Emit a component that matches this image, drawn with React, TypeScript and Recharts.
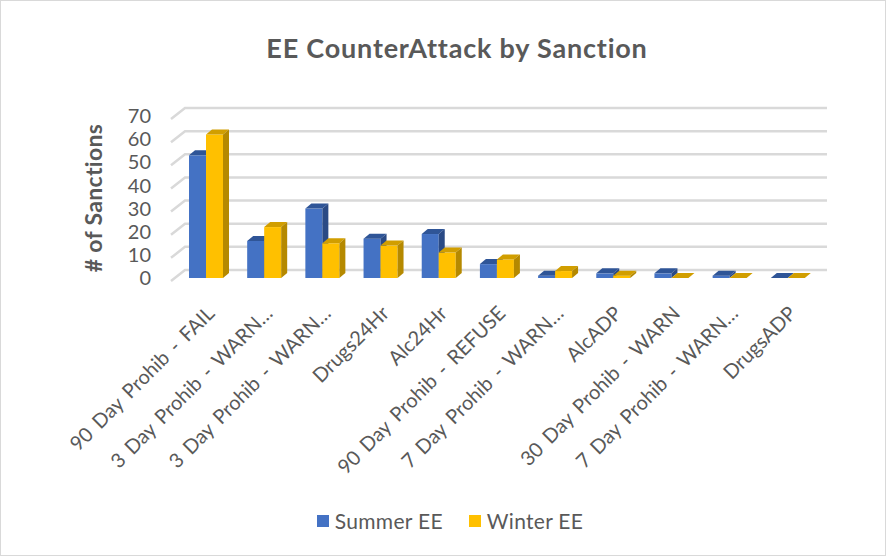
import React from "react";
import { BarChart, Bar, XAxis, YAxis, CartesianGrid, Legend } from "recharts";

const categories = [
  "90 Day Prohib - FAIL",
  "3 Day Prohib - WARN…",
  "3 Day Prohib - WARN…",
  "Drugs24Hr",
  "Alc24Hr",
  "90 Day Prohib - REFUSE",
  "7 Day Prohib - WARN…",
  "AlcADP",
  "30 Day Prohib - WARN",
  "7 Day Prohib - WARN…",
  "DrugsADP",
];
const summerEE = [53, 16, 30, 17, 19, 6, 1, 2, 2, 1, 0];
const winterEE = [62, 22, 15, 14, 11, 8, 3, 1, 0, 0, 0];
const yTicks = [0, 10, 20, 30, 40, 50, 60, 70];

const data = categories.map((name, i) => ({
  id: i,
  name,
  summer: summerEE[i],
  winter: winterEE[i],
}));

const FONT = "Lato, 'Liberation Sans', sans-serif";
const TEXT = "#595959";

// extruded bar: front face, top face and right side
function Bar3D(props: any) {
  const { x, y, width, height, fill, topFill, sideFill } = props;
  const dx = 6;
  const dy = 5;
  const h = Math.max(height || 0, 0);
  return (
    <g>
      <rect x={x} y={y} width={width} height={h} fill={fill} />
      <polygon
        points={`${x},${y} ${x + dx},${y - dy} ${x + width + dx},${y - dy} ${x + width},${y}`}
        fill={topFill}
      />
      <polygon
        points={`${x + width},${y} ${x + width + dx},${y - dy} ${x + width + dx},${y + h - dy} ${x + width},${y + h}`}
        fill={sideFill}
      />
    </g>
  );
}

function GridLine(props: any) {
  const { x1, x2, y1, index } = props;
  const d = `M${x1 - 6},${y1 + 3} L${x1 + 8},${y1 - 8} L${x2 + 10},${y1 - 8}`;
  return <path key={`g-${index}`} d={d} stroke="#d9d9d9" strokeWidth={2.5} fill="none" />;
}

function CategoryTick(props: any) {
  const { x, y, payload } = props;
  const ax = x + 4;
  const ay = y + 23;
  return (
    <text
      x={ax}
      y={ay}
      transform={`rotate(-45, ${ax}, ${ay})`}
      textAnchor="end"
      dominantBaseline="central"
      fill={TEXT}
      fontSize={20}
      wordSpacing={3}
      fontFamily={FONT}
    >
      {categories[payload.value]}
    </text>
  );
}

function LegendContent(props: any) {
  const items = props.payload || [];
  return (
    <div
      style={{
        display: "flex",
        justifyContent: "center",
        gap: 26,
        fontFamily: FONT,
        fontSize: 21,
        letterSpacing: 0.3,
        color: TEXT,
        paddingLeft: 14,
      }}
    >
      {items.map((it: any) => (
        <div key={it.value} style={{ display: "flex", alignItems: "center", gap: 6 }}>
          <span style={{ width: 12, height: 12, background: it.color, display: "inline-block" }} />
          <span>{it.value}</span>
        </div>
      ))}
    </div>
  );
}

export default function App() {
  return (
    <div
      style={{
        position: "absolute",
        left: 0,
        top: 0,
        width: 884,
        height: 554,
        border: "1px solid #d9d9d9",
        background: "#fff",
      }}
    >
      <div
        style={{
          position: "absolute",
          left: 14,
          width: 884,
          top: 30,
          textAlign: "center",
          fontFamily: FONT,
          fontWeight: 700,
          fontSize: 27,
          letterSpacing: 0.8,
          color: TEXT,
        }}
      >
        EE CounterAttack by Sanction
      </div>
      <div
        style={{
          position: "absolute",
          left: 92,
          top: 197,
          transform: "translate(-50%, -50%) rotate(-90deg)",
          whiteSpace: "nowrap",
          fontFamily: FONT,
          fontWeight: 700,
          fontSize: 23,
          letterSpacing: 0.3,
          color: TEXT,
        }}
      >
        # of Sanctions
      </div>
      <BarChart
        width={884}
        height={554}
        data={data}
        margin={{ top: 115, right: 68, left: 100, bottom: 30 }}
        barGap={0}
        barSize={17}
      >
        <CartesianGrid vertical={false} horizontal={(p: any) => <GridLine {...p} />} />
        <XAxis
          dataKey="id"
          type="category"
          axisLine={false}
          tickLine={false}
          interval={0}
          height={217}
          tick={<CategoryTick />}
        />
        <YAxis
          domain={[0, 70]}
          ticks={yTicks}
          interval={0}
          axisLine={false}
          tickLine={false}
          width={76}
          tickMargin={20}
          tick={{ fill: TEXT, fontSize: 20, fontFamily: FONT }}
        />
        <Legend
          verticalAlign="bottom"
          height={30}
          content={<LegendContent />}
          wrapperStyle={{ left: 0, width: 884, bottom: 17 }}
        />
        <Bar
          dataKey="summer"
          name="Summer EE"
          fill="#4472c4"
          isAnimationActive={false}
          shape={(p: any) => <Bar3D {...p} topFill="#2f5597" sideFill="#2a4a85" />}
        />
        <Bar
          dataKey="winter"
          name="Winter EE"
          fill="#ffc000"
          isAnimationActive={false}
          shape={(p: any) => <Bar3D {...p} topFill="#d19e00" sideFill="#b58900" />}
        />
      </BarChart>
    </div>
  );
}
